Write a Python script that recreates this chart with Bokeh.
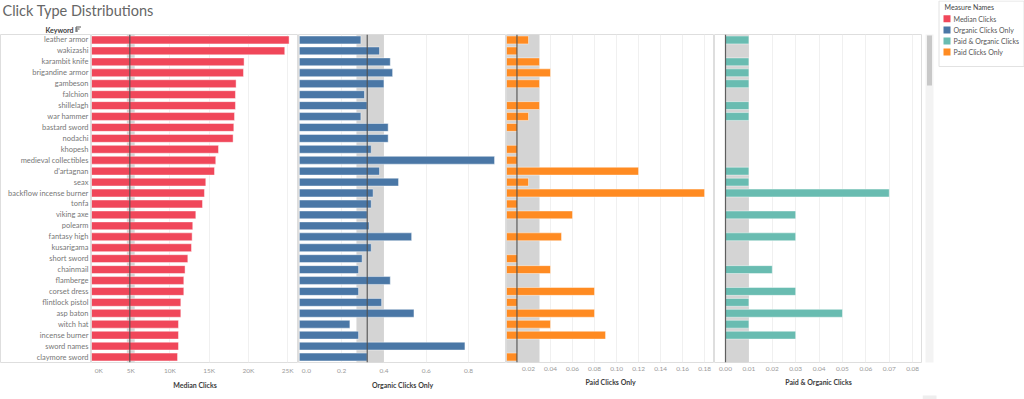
import numpy as np
from bokeh.plotting import figure
from bokeh.layouts import row, column
from bokeh.models import (ColumnDataSource, FactorRange, Range1d, FixedTicker,
                          BoxAnnotation, Span, NumeralTickFormatter)
from bokeh.core.properties import value
from bokeh.embed import file_html
from bokeh.resources import INLINE

# ---------------------------------------------------------------- data
keywords = [
    "leather armor", "wakizashi", "karambit knife", "brigandine armor", "gambeson",
    "falchion", "shillelagh", "war hammer", "bastard sword", "nodachi",
    "khopesh", "medieval collectibles", "d'artagnan", "seax", "backflow incense burner",
    "tonfa", "viking axe", "polearm", "fantasy high", "kusarigama",
    "short sword", "chainmail", "flamberge", "corset dress", "flintlock pistol",
    "asp baton", "witch hat", "incense burner", "sword names", "claymore sword",
]

median_clicks = [
    25170, 24620, 19440, 19360, 18420, 18340, 18340, 18220, 18130, 18040,
    16180, 15830, 15670, 14560, 14390, 14140, 13290, 12900, 12820, 12740,
    12270, 11920, 11760, 11760, 11380, 11380, 11080, 11080, 11080, 10960,
]

organic_clicks_only = [
    0.291, 0.379, 0.430, 0.441, 0.400, 0.308, 0.320, 0.291, 0.420, 0.420,
    0.340, 0.923, 0.379, 0.469, 0.349, 0.340, 0.321, 0.330, 0.531, 0.340,
    0.297, 0.280, 0.430, 0.280, 0.389, 0.542, 0.239, 0.280, 0.783, 0.321,
]

paid_clicks_only = [
    0.02, 0.01, 0.03, 0.04, 0.03, None, 0.03, 0.02, 0.01, None,
    0.01, 0.01, 0.12, 0.02, 0.18, 0.01, 0.06, None, 0.05, None,
    0.01, 0.04, None, 0.08, 0.01, 0.08, 0.04, 0.09, None, 0.01,
]

paid_and_organic_clicks = [
    0.01, None, 0.01, 0.01, 0.01, None, 0.01, 0.01, None, None,
    None, None, 0.01, 0.01, 0.07, None, 0.03, None, 0.03, None,
    None, 0.02, None, 0.03, 0.01, 0.05, 0.01, 0.03, None, None,
]

# reference line (median) and distribution band for each measure
median_ref, median_band = 4880, (4500, 5500)
organic_ref, organic_band = 0.321, (0.270, 0.400)
paid_ref, paid_band = 0.0095, (0.0, 0.03)
both_ref, both_band = 0.0, (0.0, 0.01)

median_ticks = [0, 5000, 10000, 15000, 20000, 25000]
organic_ticks = [0.0, 0.2, 0.4, 0.6, 0.8]
paid_ticks = [0.02, 0.04, 0.06, 0.08, 0.10, 0.12, 0.14, 0.16, 0.18]
both_ticks = [0.0, 0.01, 0.02, 0.03, 0.04, 0.05, 0.06, 0.07, 0.08]

measure_names = ["Median Clicks", "Organic Clicks Only", "Paid & Organic Clicks", "Paid Clicks Only"]
measure_colors = ["#f0475a", "#4a77a6", "#69bcb1", "#ff8b22"]
color_of = dict(zip(measure_names, measure_colors))

# ---------------------------------------------------------------- styling
FONT = "Lato"
GRID = "#f0f0f0"
BORDER = "#dedede"
ROW_H = 361          # height of the panel row (plot area + axis area)
AXIS_H = 33

y_range = FactorRange(factors=list(reversed(keywords)))


def panel(width, x_range, values, color, ticks, fmt, title, band, ref, overrides=None):
    p = figure(width=width, height=ROW_H, x_range=x_range, y_range=y_range,
               output_backend="svg", toolbar_location=None, y_axis_location=None,
               min_border=0, min_border_left=0, min_border_right=0,
               min_border_top=0, min_border_bottom=AXIS_H)
    p.outline_line_color = BORDER
    p.background_fill_color = "white"
    p.border_fill_color = "white"
    p.ygrid.grid_line_color = None
    p.xgrid.ticker = FixedTicker(ticks=ticks)
    p.xgrid.grid_line_color = GRID

    p.add_layout(BoxAnnotation(left=band[0], right=band[1], fill_color="#d4d4d4",
                               fill_alpha=1.0, line_color=None, level="underlay"))

    src = ColumnDataSource(dict(kw=keywords, v=np.array(values, dtype=float)))
    p.hbar(y="kw", left=0, right="v", height=0.72, source=src,
           fill_color=color, line_color="white", line_alpha=0.45, line_width=1)

    p.add_layout(Span(location=ref, dimension="height", line_color="#505050",
                      line_width=1.2, line_alpha=0.9))

    ax = p.xaxis[0]
    ax.ticker = FixedTicker(ticks=ticks)
    ax.formatter = fmt
    if overrides:
        ax.major_label_overrides = overrides
    ax.axis_line_color = None
    ax.major_tick_line_color = None
    ax.minor_tick_line_color = None
    ax.major_tick_out = 0
    ax.major_label_standoff = 4
    ax.major_label_text_font = FONT
    ax.major_label_text_font_size = "6.5px"
    ax.major_label_text_color = "#9a9a9a"
    ax.axis_label = title
    ax.axis_label_standoff = 4
    ax.axis_label_text_font = FONT
    ax.axis_label_text_font_size = "7px"
    ax.axis_label_text_font_style = "bold"
    ax.axis_label_text_color = "#3c3c3c"
    return p


pad = "\u00a0" * 2
p1 = panel(207, Range1d(0, 26370), median_clicks, color_of["Median Clicks"],
           median_ticks, NumeralTickFormatter(format="0a"), "Median Clicks",
           median_band, median_ref,
           overrides={0: pad + "0K", 5000: "5K", 10000: "10K", 15000: "15K",
                      20000: "20K", 25000: "25K"})
p2 = panel(208, Range1d(-0.004, 0.9795), organic_clicks_only, color_of["Organic Clicks Only"],
           organic_ticks, NumeralTickFormatter(format="0.0"), "Organic Clicks Only",
           organic_band, organic_ref, overrides={0: pad + "0.0"})
p3 = panel(208, Range1d(0.0, 0.189), paid_clicks_only, color_of["Paid Clicks Only"],
           paid_ticks, NumeralTickFormatter(format="0.00"), "Paid Clicks Only",
           paid_band, paid_ref)
p4 = panel(208, Range1d(-0.0047, 0.0842), paid_and_organic_clicks, color_of["Paid & Organic Clicks"],
           both_ticks, NumeralTickFormatter(format="0.00"), "Paid & Organic Clicks",
           both_band, both_ref)

# keyword row headers
p0 = figure(width=91, height=ROW_H, x_range=Range1d(0, 91), y_range=y_range,
            output_backend="svg", toolbar_location=None,
            x_axis_location=None, y_axis_location=None,
            min_border=0, min_border_left=0, min_border_right=0,
            min_border_top=0, min_border_bottom=AXIS_H)
p0.outline_line_color = BORDER
p0.grid.grid_line_color = None
lab_src = ColumnDataSource(dict(kw=keywords, x=[88] * len(keywords)))
p0.text(x="x", y="kw", text="kw", source=lab_src, text_align="right",
        text_baseline="middle", text_font=value(FONT), text_font_size="7.5px",
        text_color="#777777")

# title strip
head = figure(width=922, height=34, x_range=Range1d(0, 922), y_range=Range1d(34, 0),
              output_backend="svg", toolbar_location=None,
              x_axis_location=None, y_axis_location=None, min_border=0)
head.outline_line_color = None
head.grid.grid_line_color = None
head.text(x=[2], y=[10], text=["Click Type Distributions"], text_baseline="middle",
          text_font=value(FONT), text_font_size="14.5px", text_color="#666666")
head.text(x=[73], y=[29], text=["Keyword"], text_align="right", text_baseline="middle",
          text_font=value(FONT), text_font_size="7px", text_font_style="bold",
          text_color="#3c3c3c")
# sort indicator beside the column header
head.segment(x0=[75.5, 75.5, 75.5, 75.5], y0=[26.5, 28.5, 30.5, 26.5],
             x1=[80.5, 79, 77.5, 75.5], y1=[26.5, 28.5, 30.5, 31.5],
             line_color="#555555", line_width=1)

# bottom strip
foot = figure(width=922, height=4, x_range=Range1d(0, 1), y_range=Range1d(0, 1),
              output_backend="svg", toolbar_location=None,
              x_axis_location=None, y_axis_location=None, min_border=0)
foot.outline_line_color = None
foot.grid.grid_line_color = None
foot.background_fill_color = "#eeeeee"
foot.border_fill_color = "#eeeeee"

# scrollbar and legend column
side = figure(width=102, height=399, x_range=Range1d(922, 1024), y_range=Range1d(399, 0),
              output_backend="svg", toolbar_location=None,
              x_axis_location=None, y_axis_location=None, min_border=0)
side.outline_line_color = None
side.grid.grid_line_color = None
side.quad(left=[922], right=[936], top=[395], bottom=[399], fill_color="#eeeeee", line_color=None)
side.quad(left=[925], right=[933], top=[34], bottom=[362], fill_color="#f3f3f3", line_color=None)
side.quad(left=[926.5], right=[931.5], top=[35], bottom=[85], fill_color="#c8c8c8", line_color=None)
side.quad(left=[938.5], right=[1023.5], top=[0.5], bottom=[66], fill_color="white",
          line_color="#e2e2e2", line_width=1)
side.text(x=[944], y=[6], text=["Measure Names"], text_baseline="middle",
          text_font=value(FONT), text_font_size="7px", text_color="#444444")
leg_y = [18.3 + 11.1 * i for i in range(len(measure_names))]
side.rect(x=[946.5] * len(measure_names), y=leg_y, width=7, height=7,
          fill_color=measure_colors, line_color=None)
side.text(x=[953] * len(measure_names), y=leg_y, text=measure_names, text_baseline="middle",
          text_font=value(FONT), text_font_size="7px", text_color="#555555")

layout = row(column(head, row(p0, p1, p2, p3, p4), foot), side)

open("out.html", "w").write(file_html(layout, INLINE, title="Click Type Distributions"))
